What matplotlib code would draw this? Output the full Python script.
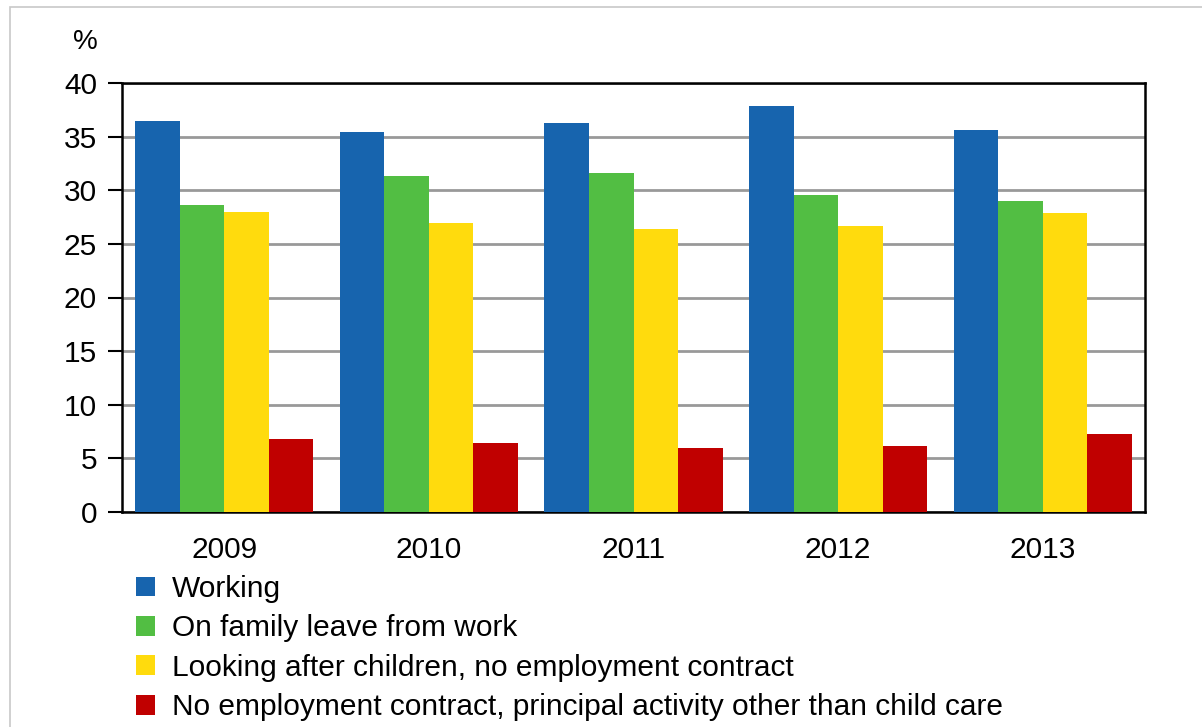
import matplotlib
matplotlib.use("Agg")
import matplotlib.pyplot as plt
from matplotlib.patches import Rectangle
import numpy as np

years = ["2009", "2010", "2011", "2012", "2013"]
series_names = [
    "Working",
    "On family leave from work",
    "Looking after children, no employment contract",
    "No employment contract, principal activity other than child care",
]
working = [36.5, 35.4, 36.3, 37.9, 35.6]
family_leave = [28.6, 31.3, 31.6, 29.6, 29.0]
looking_after = [28.0, 26.9, 26.4, 26.7, 27.9]
no_contract = [6.8, 6.4, 6.0, 6.2, 7.3]
yticks = [0, 5, 10, 15, 20, 25, 30, 35, 40]

colors = ["#1764ae", "#52be43", "#ffdb0d", "#c00000"]

plt.rcParams['font.family'] = ['Liberation Sans', 'DejaVu Sans']

W, H = 1202, 727
fig = plt.figure(figsize=(W / 100, H / 100), dpi=100)

# outer light border
fig.patches.append(Rectangle((10 / W, -0.01), 1.1, 1 - 7 / H + 0.01,
                             transform=fig.transFigure, fill=False,
                             edgecolor="#c8c8c8", linewidth=1.2))

left, right, top, bottom = 122, 1145, 83, 512
ax = fig.add_axes([left / W, 1 - bottom / H, (right - left) / W, (bottom - top) / H])

data = [working, family_leave, looking_after, no_contract]
x = np.arange(len(years))
bw = 0.87 / 4
for i, (vals, c, name) in enumerate(zip(data, colors, series_names)):
    ax.bar(x - 0.435 + bw * (i + 0.5), vals, width=bw, color=c, label=name,
           edgecolor="none", zorder=3)

FS = 21.5
ax.set_xlim(-0.5, len(years) - 0.5)
ax.set_ylim(0, 40)
ax.set_yticks(yticks)
ax.set_yticklabels([str(v) for v in yticks], fontsize=FS)
ax.set_xticks(x)
ax.set_xticklabels(years, fontsize=FS)
ax.tick_params(axis="x", length=0, pad=17)
ax.tick_params(axis="y", length=10, width=1.5, direction="out", pad=8, color="black")
ax.yaxis.grid(True, color="#999999", linewidth=2, zorder=0)
for s in ax.spines.values():
    s.set_color("black")
    s.set_linewidth(1.8)

fig.text(85 / W, 1 - 42 / H, "%", fontsize=20, ha="center", va="center")

leg = fig.legend(loc="upper left", bbox_to_anchor=(136 / W, 1 - 575 / H),
                 frameon=False, fontsize=FS, handlelength=0.65, handleheight=0.65,
                 handletextpad=0.55, labelspacing=0.38, borderaxespad=0, borderpad=0)

fig.savefig("out.png", dpi=100)
